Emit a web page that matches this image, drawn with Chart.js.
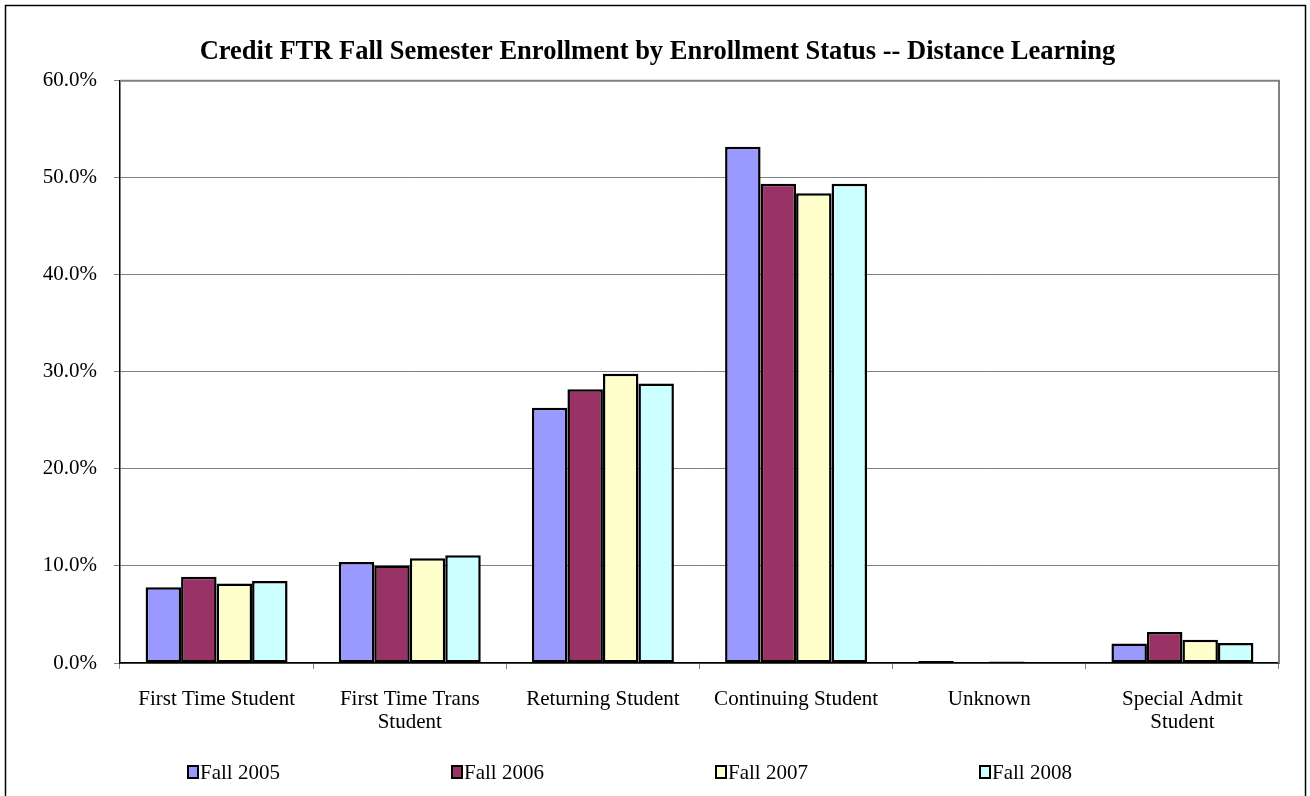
<!DOCTYPE html>
<html>
<head>
<meta charset="utf-8">
<script src="https://cdn.jsdelivr.net/npm/chart.js@4.4.0/dist/chart.umd.min.js"></script>
<style>
  html, body { margin: 0; padding: 0; background: #fff; }
  #wrap { width: 1310px; height: 796px; position: relative; }
</style>
</head>
<body>
<div id="wrap"><canvas id="c" width="1310" height="796"></canvas></div>
<script>
const categories = [
  "First Time Student",
  ["First Time Trans", "Student"],
  "Returning Student",
  "Continuing Student",
  "Unknown",
  ["Special Admit", "Student"]
];
const seriesNames = ["Fall 2005", "Fall 2006", "Fall 2007", "Fall 2008"];
const fall2005 = [7.8, 10.4, 26.3, 53.2, 0.2, 2.0];
const fall2006 = [8.9, 10.05, 28.2, 49.4, 0.1, 3.2];
const fall2007 = [8.2, 10.8, 29.8, 48.4, 0.15, 2.4];
const fall2008 = [8.45, 11.1, 28.8, 49.4, 0.1, 2.05];
const seriesColors = ["#9999FF", "#993366", "#FFFFCC", "#CCFFFF"];
const yTicks = [0, 10, 20, 30, 40, 50, 60];
const titleText = "Credit FTR Fall Semester Enrollment by Enrollment Status -- Distance Learning";

const FONT = "'Liberation Serif', 'Times New Roman', serif";
const seriesValues = [fall2005, fall2006, fall2007, fall2008];

const framePlugin = {
  id: 'frame',
  beforeDraw(chart) {
    const ctx = chart.ctx;
    ctx.save();
    ctx.fillStyle = '#fff';
    ctx.fillRect(0, 0, chart.width, chart.height);
    ctx.strokeStyle = '#000';
    ctx.lineWidth = 1.5;
    ctx.strokeRect(5.5, 5.5, 1300, 810);
    ctx.restore();
  },
  afterDatasetsDraw(chart) {
    const ctx = chart.ctx;
    const a = chart.chartArea;
    ctx.save();
    ctx.strokeStyle = '#808080';
    ctx.lineWidth = 2;
    ctx.beginPath();
    ctx.moveTo(a.left, a.top);
    ctx.lineTo(a.right, a.top);
    ctx.lineTo(a.right, a.bottom);
    ctx.stroke();
    ctx.restore();
  },
  afterDraw(chart) {
    const ctx = chart.ctx;
    ctx.save();
    ctx.font = "21px " + FONT;
    ctx.textBaseline = 'middle';
    ctx.textAlign = 'left';
    const y = 772;
    chart.data.datasets.forEach((ds, i) => {
      const x = 188 + i * 264;
      ctx.fillStyle = ds.backgroundColor;
      ctx.fillRect(x, y - 6, 10, 12);
      ctx.strokeStyle = '#000';
      ctx.lineWidth = 2;
      ctx.strokeRect(x, y - 6, 10, 12);
      ctx.fillStyle = '#000';
      ctx.fillText(ds.label, x + 12, y + 1);
    });
    ctx.restore();
  }
};

new Chart(document.getElementById('c'), {
  type: 'bar',
  data: {
    labels: categories,
    datasets: seriesNames.map((name, i) => ({
      label: name,
      data: seriesValues[i],
      backgroundColor: seriesColors[i],
      borderColor: '#000',
      borderWidth: 2.5,
      borderSkipped: false,
      categoryPercentage: 0.735,
      barPercentage: 1.0
    }))
  },
  options: {
    responsive: false,
    animation: false,
    devicePixelRatio: 1,
    layout: { padding: { left: 36, right: 31, top: 0, bottom: 53 } },
    plugins: {
      legend: { display: false },
      tooltip: { enabled: false },
      title: {
        display: true,
        text: titleText,
        color: '#000',
        font: { family: FONT, size: 26.5, weight: 'bold' },
        padding: { top: 36, bottom: 13 }
      }
    },
    scales: {
      x: {
        offset: true,
        grid: {
          offset: true,
          drawOnChartArea: false,
          drawTicks: true,
          tickLength: 6,
          color: '#808080'
        },
        border: { color: '#000', width: 1.5 },
        ticks: {
          color: '#000',
          font: { family: FONT, size: 21, lineHeight: 1.1 },
          padding: 19,
          maxRotation: 0,
          autoSkip: false
        },
        afterFit(scale) { scale.height = 80; }
      },
      y: {
        min: 0,
        max: 60,
        afterBuildTicks(scale) { scale.ticks = yTicks.map(v => ({ value: v })); },
        grid: {
          color: '#808080',
          lineWidth: 1,
          tickLength: 6,
          drawTicks: true
        },
        border: { color: '#000', width: 1.5 },
        ticks: {
          color: '#000',
          font: { family: FONT, size: 21 },
          padding: 17,
          callback: v => v.toFixed(1) + '%'
        },
        afterFit(scale) { scale.width = 84; }
      }
    }
  },
  plugins: [framePlugin]
});
</script>
</body>
</html>
